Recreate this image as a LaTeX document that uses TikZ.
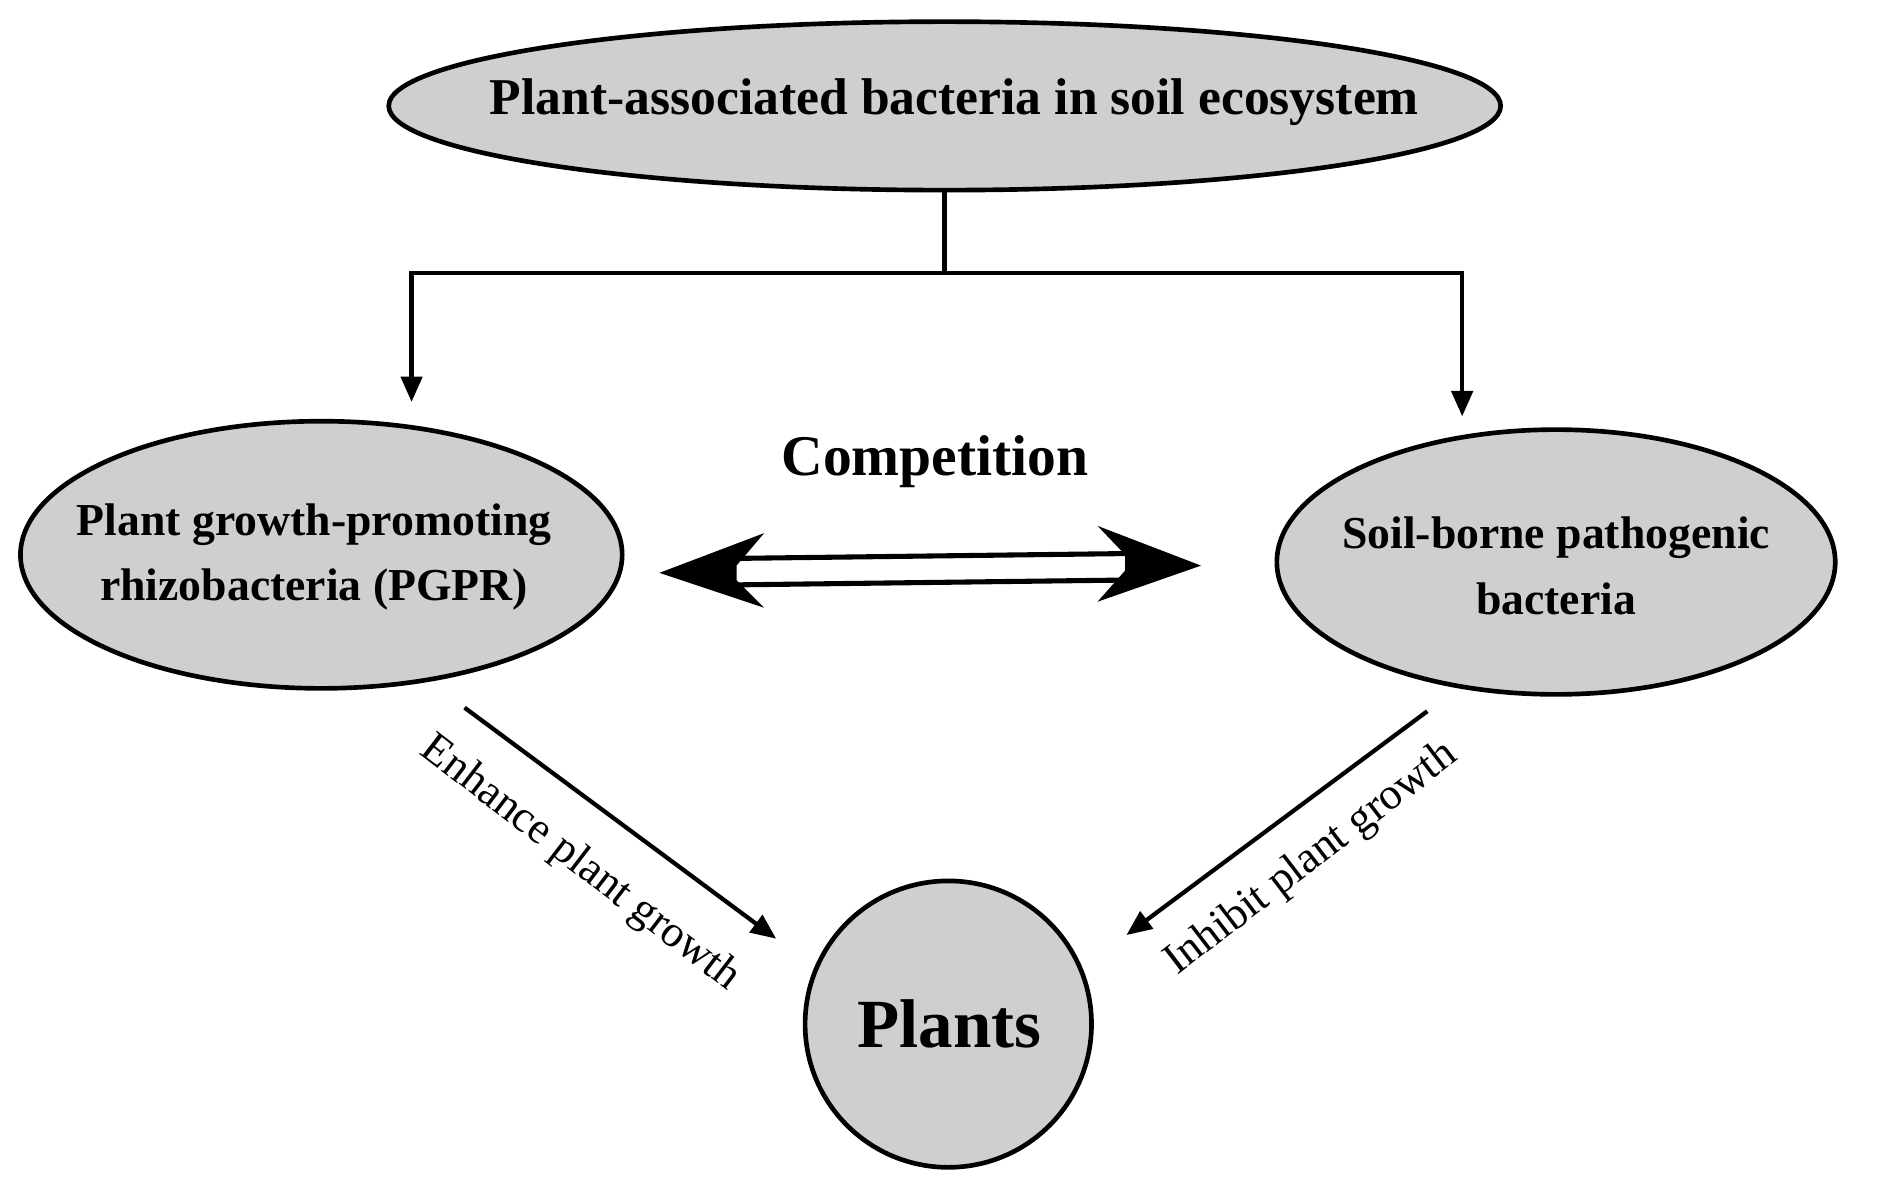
\documentclass[tikz,border=0pt]{standalone}
\usepackage{fontspec}
\setmainfont{Liberation Serif}
\usetikzlibrary{arrows.meta}
\begin{document}
\begin{tikzpicture}[x=0.01cm,y=-0.01cm,
  bub/.style={draw,line width=1.1pt,fill=gray!38,align=center,font=\bfseries\fontsize{10.8}{15.5}\selectfont},
  arr/.style={line width=1pt,-{Stealth[length=6pt,width=5pt,inset=0pt]}},
  lab/.style={font=\fontsize{10.5}{12}\selectfont}]
\useasboundingbox (0,0) rectangle (1568,988);
\path[bub] (785,88) ellipse [x radius=462,y radius=70];
\node[font=\bfseries\fontsize{12.2}{14}\selectfont] (top) at (793,85) {Plant-associated bacteria in soil ecosystem};
\path[bub] (267,461) ellipse [x radius=250,y radius=111];
\node[bub,draw=none,fill=none] (pgpr) at (261,463) {Plant growth-promoting\\rhizobacteria (PGPR)};
\path[bub] (1293,467) ellipse [x radius=232,y radius=110];
\node[bub,draw=none,fill=none] (soil) at (1293,470) {Soil-borne pathogenic\\bacteria};
\draw[line width=1.1pt,fill=gray!38] (788,851) circle [radius=119];
\node[font=\bfseries\fontsize{16.3}{18}\selectfont] (plants) at (789,851) {Plants};
\node[font=\bfseries\fontsize{13.6}{15}\selectfont] (comp) at (777,384) {Competition};
% tree connector
\coordinate (t0) at (785,158); \coordinate (tm) at (785,227);
\coordinate (tl) at (342,227); \coordinate (tr) at (1215,227);
\coordinate (al) at (342,334); \coordinate (ar) at (1215,346);
\draw[line width=1.1pt] (t0) -- (tm);
\draw[arr] (tm) -- (tl) -- (al);
\draw[arr] (tm) -- (tr) -- (ar);
% competition double arrow
\coordinate (L) at (548,476); \coordinate (R) at (998,470);
\fill (L) -- (635,443) -- (612,470) -- (612,482) -- (635,505) -- cycle;
\fill (R) -- (912,437) -- (935,461) -- (935,474) -- (912,500) -- cycle;
\draw[line width=1.2pt] (612,464) -- (935,460);
\draw[line width=1.2pt] (612,486) -- (935,482);
% effects
\coordinate (e1) at (386,588); \coordinate (e2) at (645,780);
\coordinate (i1) at (1186,591); \coordinate (i2) at (936,777);
\draw[arr] (e1) -- (e2);
\draw[arr] (i1) -- (i2);
\node[lab,rotate=-37.5] (el) at (482,718) {Enhance plant growth};
\node[lab,rotate=37.5] (il) at (1090,714) {Inhibit plant growth};
\end{tikzpicture}
\end{document}
